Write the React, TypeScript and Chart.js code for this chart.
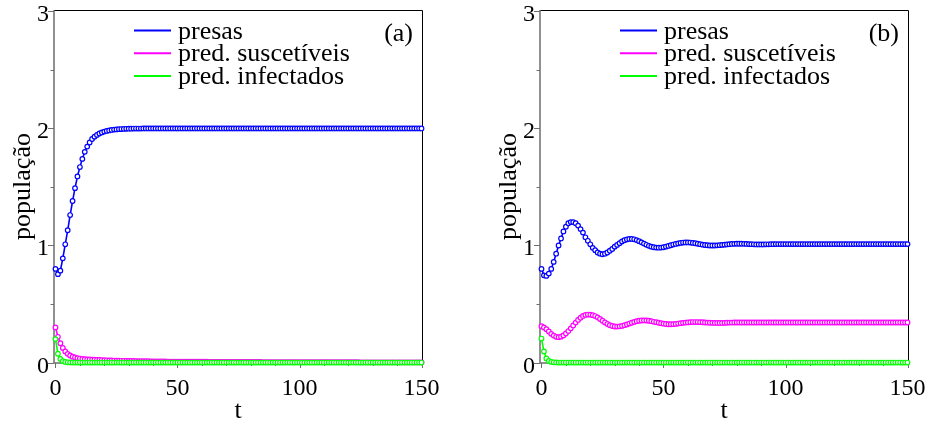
import React, { useEffect, useRef } from "react";
import { Chart, registerables } from "chart.js";

Chart.register(...registerables);

// Sampling times of the numerical solution
const TIME = [
  0, 1, 2, 3, 4, 5, 6, 7, 8, 9, 10, 11, 12, 13, 14, 15, 16, 17, 18, 19,
  20, 21, 22, 23, 24, 25, 26, 27, 28, 29, 30, 31, 32, 33, 34, 35, 36, 37, 38, 39,
  40, 41, 42, 43, 44, 45, 46, 47, 48, 49, 50, 51, 52, 53, 54, 55, 56, 57, 58, 59,
  60, 61, 62, 63, 64, 65, 66, 67, 68, 69, 70, 71, 72, 73, 74, 75, 76, 77, 78, 79,
  80, 81, 82, 83, 84, 85, 86, 87, 88, 89, 90, 91, 92, 93, 94, 95, 96, 97, 98, 99,
  100, 101, 102, 103, 104, 105, 106, 107, 108, 109, 110, 111, 112, 113, 114, 115, 116, 117, 118, 119,
  120, 121, 122, 123, 124, 125, 126, 127, 128, 129, 130, 131, 132, 133, 134, 135, 136, 137, 138, 139,
  140, 141, 142, 143, 144, 145, 146, 147, 148, 149, 150,
];

// Panel (a)
const PREY_A = [
  0.8, 0.755, 0.785, 0.89, 1.01, 1.13, 1.26, 1.38, 1.49, 1.59,
  1.67, 1.74, 1.8, 1.845, 1.88, 1.91, 1.93, 1.945, 1.957, 1.966,
  1.973, 1.979, 1.983, 1.987, 1.99, 1.992, 1.994, 1.995, 1.996, 1.997,
  1.998, 1.998, 1.999, 1.999, 1.999, 1.999, 2, 2, 2, 2,
  2, 2, 2, 2, 2, 2, 2, 2, 2, 2,
  2, 2, 2, 2, 2, 2, 2, 2, 2, 2,
  2, 2, 2, 2, 2, 2, 2, 2, 2, 2,
  2, 2, 2, 2, 2, 2, 2, 2, 2, 2,
  2, 2, 2, 2, 2, 2, 2, 2, 2, 2,
  2, 2, 2, 2, 2, 2, 2, 2, 2, 2,
  2, 2, 2, 2, 2, 2, 2, 2, 2, 2,
  2, 2, 2, 2, 2, 2, 2, 2, 2, 2,
  2, 2, 2, 2, 2, 2, 2, 2, 2, 2,
  2, 2, 2, 2, 2, 2, 2, 2, 2, 2,
  2, 2, 2, 2, 2, 2, 2, 2, 2, 2,
  2,
];

const SUSC_A = [
  0.3, 0.22, 0.165, 0.125, 0.095, 0.074, 0.06, 0.05, 0.043, 0.038,
  0.034, 0.031, 0.029, 0.027, 0.026, 0.025, 0.024, 0.023, 0.022, 0.021,
  0.02, 0.019, 0.018, 0.018, 0.017, 0.016, 0.016, 0.015, 0.015, 0.014,
  0.014, 0.013, 0.013, 0.012, 0.012, 0.012, 0.011, 0.011, 0.011, 0.01,
  0.01, 0.01, 0.009, 0.009, 0.009, 0.009, 0.008, 0.008, 0.008, 0.008,
  0.008, 0.008, 0.008, 0.007, 0.007, 0.007, 0.007, 0.007, 0.007, 0.007,
  0.007, 0.007, 0.007, 0.006, 0.006, 0.006, 0.006, 0.006, 0.006, 0.006,
  0.006, 0.006, 0.006, 0.006, 0.006, 0.005, 0.005, 0.005, 0.005, 0.005,
  0.005, 0.005, 0.005, 0.005, 0.005, 0.004, 0.004, 0.004, 0.004, 0.004,
  0.004, 0.004, 0.004, 0.004, 0.004, 0.004, 0.004, 0.004, 0.004, 0.004,
  0.004, 0.004, 0.004, 0.003, 0.003, 0.003, 0.003, 0.003, 0.003, 0.003,
  0.003, 0.003, 0.003, 0.003, 0.003, 0.003, 0.003, 0.003, 0.003, 0.003,
  0.003, 0.003, 0.003, 0.003, 0.003, 0.002, 0.002, 0.002, 0.002, 0.002,
  0.002, 0.002, 0.002, 0.002, 0.002, 0.002, 0.002, 0.002, 0.002, 0.002,
  0.002, 0.002, 0.002, 0.002, 0.002, 0.002, 0.002, 0.002, 0.002, 0.002,
  0.002,
];

const INF_A = [
  0.2, 0.075, 0.03, 0.012, 0.005, 0.002, 0.001, 0, 0, 0,
  0, 0, 0, 0, 0, 0, 0, 0, 0, 0,
  0, 0, 0, 0, 0, 0, 0, 0, 0, 0,
  0, 0, 0, 0, 0, 0, 0, 0, 0, 0,
  0, 0, 0, 0, 0, 0, 0, 0, 0, 0,
  0, 0, 0, 0, 0, 0, 0, 0, 0, 0,
  0, 0, 0, 0, 0, 0, 0, 0, 0, 0,
  0, 0, 0, 0, 0, 0, 0, 0, 0, 0,
  0, 0, 0, 0, 0, 0, 0, 0, 0, 0,
  0, 0, 0, 0, 0, 0, 0, 0, 0, 0,
  0, 0, 0, 0, 0, 0, 0, 0, 0, 0,
  0, 0, 0, 0, 0, 0, 0, 0, 0, 0,
  0, 0, 0, 0, 0, 0, 0, 0, 0, 0,
  0, 0, 0, 0, 0, 0, 0, 0, 0, 0,
  0, 0, 0, 0, 0, 0, 0, 0, 0, 0,
  0,
];

// Panel (b)
const PREY_B = [
  0.8, 0.745, 0.74, 0.76, 0.8, 0.86, 0.93, 1.0, 1.06, 1.12,
  1.16, 1.19, 1.2, 1.2, 1.19, 1.17, 1.14, 1.11, 1.07, 1.04,
  1.01, 0.98, 0.96, 0.94, 0.93, 0.925, 0.93, 0.94, 0.955, 0.97,
  0.99, 1.005, 1.02, 1.035, 1.045, 1.052, 1.056, 1.056, 1.053, 1.046,
  1.037, 1.027, 1.016, 1.006, 0.997, 0.99, 0.985, 0.982, 0.981, 0.982,
  0.985, 0.99, 0.996, 1.002, 1.008, 1.013, 1.018, 1.022, 1.025, 1.026,
  1.026, 1.025, 1.022, 1.019, 1.015, 1.011, 1.007, 1.004, 1.002, 1.0,
  1.0, 1.0, 1.001, 1.003, 1.005, 1.007, 1.009, 1.011, 1.013, 1.014,
  1.015, 1.015, 1.015, 1.014, 1.013, 1.012, 1.011, 1.01, 1.009, 1.009,
  1.009, 1.009, 1.01, 1.01, 1.011, 1.011, 1.012, 1.012, 1.012, 1.012,
  1.012, 1.012, 1.012, 1.012, 1.012, 1.012, 1.012, 1.012, 1.012, 1.012,
  1.012, 1.012, 1.012, 1.012, 1.012, 1.012, 1.012, 1.012, 1.012, 1.012,
  1.012, 1.012, 1.012, 1.012, 1.012, 1.012, 1.012, 1.012, 1.012, 1.012,
  1.012, 1.012, 1.012, 1.012, 1.012, 1.012, 1.012, 1.012, 1.012, 1.012,
  1.012, 1.012, 1.012, 1.012, 1.012, 1.012, 1.012, 1.012, 1.012, 1.012,
  1.012,
];

const SUSC_B = [
  0.31, 0.3, 0.285, 0.265, 0.245, 0.23, 0.22, 0.217, 0.221, 0.232,
  0.248, 0.269, 0.292, 0.317, 0.341, 0.364, 0.383, 0.398, 0.407, 0.41,
  0.409, 0.405, 0.397, 0.386, 0.372, 0.357, 0.343, 0.33, 0.319, 0.312,
  0.308, 0.307, 0.309, 0.313, 0.319, 0.326, 0.333, 0.34, 0.347, 0.353,
  0.357, 0.359, 0.36, 0.359, 0.357, 0.353, 0.348, 0.345, 0.34, 0.336,
  0.332, 0.329, 0.327, 0.327, 0.328, 0.33, 0.333, 0.336, 0.339, 0.341,
  0.343, 0.345, 0.346, 0.346, 0.346, 0.345, 0.344, 0.342, 0.341, 0.34,
  0.339, 0.338, 0.338, 0.338, 0.338, 0.339, 0.34, 0.341, 0.341, 0.342,
  0.342, 0.342, 0.342, 0.342, 0.342, 0.342, 0.342, 0.342, 0.342, 0.342,
  0.342, 0.342, 0.342, 0.342, 0.342, 0.342, 0.342, 0.342, 0.342, 0.342,
  0.342, 0.342, 0.342, 0.342, 0.342, 0.342, 0.342, 0.342, 0.342, 0.342,
  0.342, 0.342, 0.342, 0.342, 0.342, 0.342, 0.342, 0.342, 0.342, 0.342,
  0.342, 0.342, 0.342, 0.342, 0.342, 0.342, 0.342, 0.342, 0.342, 0.342,
  0.342, 0.342, 0.342, 0.342, 0.342, 0.342, 0.342, 0.342, 0.342, 0.342,
  0.342, 0.342, 0.342, 0.342, 0.342, 0.342, 0.342, 0.342, 0.342, 0.342,
  0.342,
];

const INF_B = [
  0.205, 0.095, 0.035, 0.013, 0.005, 0.002, 0.001, 0, 0, 0,
  0, 0, 0, 0, 0, 0, 0, 0, 0, 0,
  0, 0, 0, 0, 0, 0, 0, 0, 0, 0,
  0, 0, 0, 0, 0, 0, 0, 0, 0, 0,
  0, 0, 0, 0, 0, 0, 0, 0, 0, 0,
  0, 0, 0, 0, 0, 0, 0, 0, 0, 0,
  0, 0, 0, 0, 0, 0, 0, 0, 0, 0,
  0, 0, 0, 0, 0, 0, 0, 0, 0, 0,
  0, 0, 0, 0, 0, 0, 0, 0, 0, 0,
  0, 0, 0, 0, 0, 0, 0, 0, 0, 0,
  0, 0, 0, 0, 0, 0, 0, 0, 0, 0,
  0, 0, 0, 0, 0, 0, 0, 0, 0, 0,
  0, 0, 0, 0, 0, 0, 0, 0, 0, 0,
  0, 0, 0, 0, 0, 0, 0, 0, 0, 0,
  0, 0, 0, 0, 0, 0, 0, 0, 0, 0,
  0,
];

const SERIES_LABELS = ["presas", "pred. suscetíveis", "pred. infectados"];
const SERIES_COLORS = ["#0000ff", "#ff00ff", "#00ff00"];

const X_LABEL_TICKS = [0, 50, 100, 150];
const X_TICK_MARKS = [0, 10, 20, 30, 40, 50, 60, 70, 80, 90, 100, 110, 120, 130, 140, 150];
const Y_LABEL_TICKS = [0, 1, 2, 3];
const Y_TICK_MARKS = [0, 0.5, 1, 1.5, 2, 2.5, 3];

const X_TITLE = "t";
const Y_TITLE = "população";

const SERIF = '"Liberation Serif", "Times New Roman", serif';
const AXIS_GRAY = "#6e6e6e";

const CANVAS_W = 442;
const CANVAS_H = 433;
const AREA = { left: 54, top: 10, right: 422, bottom: 363 };

type PanelProps = {
  tag: string;
  series: number[][];
  left: number;
};

function decorPlugin(tag: string) {
  return {
    id: "panelDecor",
    beforeDatasetsDraw(chart: any) {
      const { ctx, chartArea: a, scales } = chart;
      const xs = scales.x;
      const ys = scales.y;
      ctx.save();

      // box: gray axes on the left/bottom, black on top/right
      ctx.lineWidth = 1;
      ctx.strokeStyle = "#000";
      ctx.beginPath();
      ctx.moveTo(a.left, a.top + 0.5);
      ctx.lineTo(a.right + 0.5, a.top + 0.5);
      ctx.lineTo(a.right + 0.5, a.bottom);
      ctx.stroke();

      ctx.lineWidth = 1.5;
      ctx.strokeStyle = AXIS_GRAY;
      ctx.beginPath();
      ctx.moveTo(a.left, a.top);
      ctx.lineTo(a.left, a.bottom);
      ctx.lineTo(a.right, a.bottom);
      ctx.stroke();

      ctx.lineWidth = 1;
      ctx.beginPath();
      X_TICK_MARKS.forEach((v) => {
        const px = Math.round(xs.getPixelForValue(v)) + 0.5;
        const len = X_LABEL_TICKS.includes(v) ? 5 : 3;
        ctx.moveTo(px, a.bottom);
        ctx.lineTo(px, a.bottom + len);
      });
      Y_TICK_MARKS.forEach((v) => {
        const py = Math.round(ys.getPixelForValue(v)) + 0.5;
        const len = Y_LABEL_TICKS.includes(v) ? 6 : 3.5;
        ctx.moveTo(a.left, py);
        ctx.lineTo(a.left - len, py);
      });
      ctx.stroke();

      // tick labels
      ctx.fillStyle = "#000";
      ctx.font = `24px ${SERIF}`;
      ctx.textBaseline = "alphabetic";
      ctx.textAlign = "center";
      X_LABEL_TICKS.forEach((v) => {
        ctx.fillText(String(v), xs.getPixelForValue(v), a.bottom + 31.5);
      });
      ctx.textAlign = "right";
      Y_LABEL_TICKS.forEach((v) => {
        ctx.fillText(String(v), a.left - 5, ys.getPixelForValue(v) + 10);
      });

      // axis titles
      ctx.font = `26px ${SERIF}`;
      ctx.textAlign = "center";
      ctx.fillText(X_TITLE, (a.left + a.right) / 2, a.bottom + 55);
      ctx.save();
      ctx.translate(30, (a.top + a.bottom) / 2);
      ctx.rotate(-Math.PI / 2);
      ctx.fillText(Y_TITLE, 0, 0);
      ctx.restore();

      ctx.restore();
    },
    afterDatasetsDraw(chart: any) {
      const { ctx, chartArea: a } = chart;
      ctx.save();
      // legend
      ctx.font = `26px ${SERIF}`;
      ctx.textAlign = "left";
      ctx.textBaseline = "alphabetic";
      SERIES_LABELS.forEach((label, i) => {
        const ly = a.top + 20.5 + i * 22.8;
        ctx.strokeStyle = SERIES_COLORS[i];
        ctx.lineWidth = 2;
        ctx.beginPath();
        ctx.moveTo(a.left + 80, ly);
        ctx.lineTo(a.left + 117, ly);
        ctx.stroke();
        ctx.fillStyle = "#000";
        ctx.fillText(label, a.left + 124, ly + 8);
      });
      // panel tag
      ctx.font = `26px ${SERIF}`;
      ctx.textAlign = "right";
      ctx.fillText(tag, a.right - 9, a.top + 31);
      ctx.restore();
    },
  };
}

function Panel({ tag, series, left }: PanelProps) {
  const canvasRef = useRef<HTMLCanvasElement | null>(null);

  useEffect(() => {
    const canvas = canvasRef.current;
    if (!canvas) return;
    const datasets = series.map((values, i) => ({
      label: SERIES_LABELS[i],
      data: TIME.map((t, k) => ({ x: t, y: values[k] })),
      borderColor: SERIES_COLORS[i],
      borderWidth: 1.6,
      pointStyle: "circle" as const,
      pointRadius: 2.3,
      pointBorderWidth: 1.2,
      pointBorderColor: SERIES_COLORS[i],
      pointBackgroundColor: "#ffffff",
      tension: 0,
      fill: false,
      clip: false as const,
      order: series.length - i,
    }));

    const chart = new Chart(canvas, {
      type: "line",
      data: { datasets },
      options: {
        animation: false,
        responsive: false,
        maintainAspectRatio: false,
        events: [],
        layout: {
          padding: {
            left: AREA.left,
            top: AREA.top,
            right: CANVAS_W - AREA.right,
            bottom: CANVAS_H - AREA.bottom,
          },
        },
        plugins: {
          legend: { display: false },
          tooltip: { enabled: false },
        },
        scales: {
          x: { type: "linear", display: false, min: -0.61, max: 150.2 },
          y: { type: "linear", display: false, min: -0.004, max: 3.012 },
        },
      },
      plugins: [decorPlugin(tag)],
    });
    return () => chart.destroy();
  }, [tag, series]);

  return (
    <canvas
      ref={canvasRef}
      width={CANVAS_W}
      height={CANVAS_H}
      style={{ position: "absolute", left, top: 0, width: CANVAS_W, height: CANVAS_H }}
    />
  );
}

const PANEL_A = [PREY_A, SUSC_A, INF_A];
const PANEL_B = [PREY_B, SUSC_B, INF_B];

export default function App() {
  return (
    <div
      style={{
        position: "absolute",
        left: 0,
        top: 0,
        width: 928,
        height: 433,
        background: "#ffffff",
        overflow: "hidden",
      }}
    >
      <Panel tag="(a)" series={PANEL_A} left={0} />
      <Panel tag="(b)" series={PANEL_B} left={486} />
    </div>
  );
}
